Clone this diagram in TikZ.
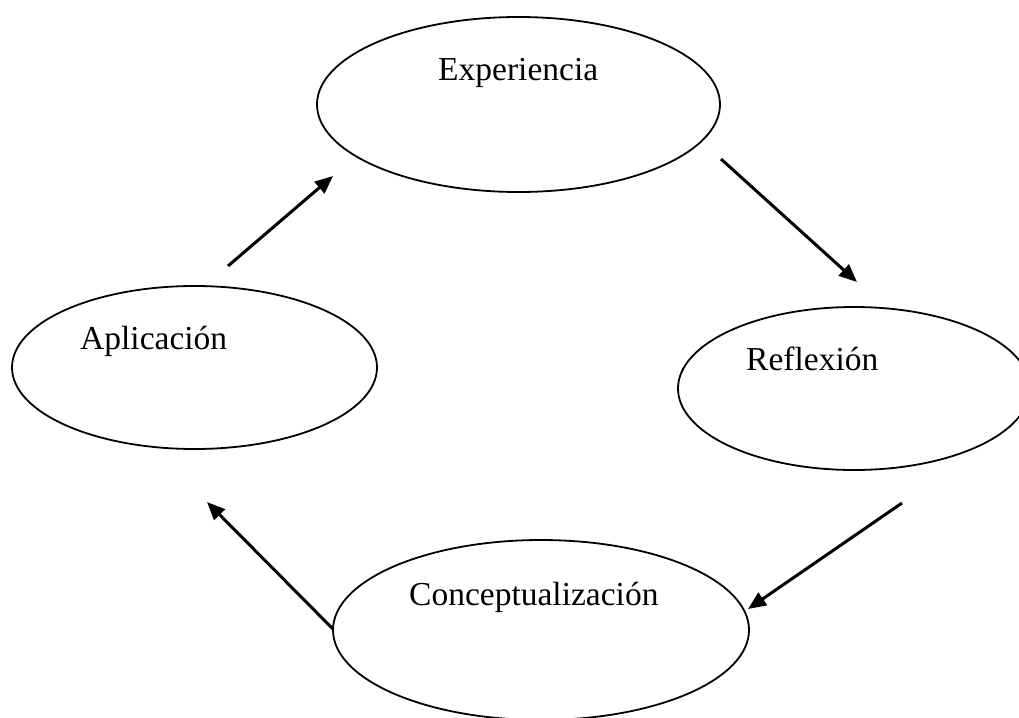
\documentclass[tikz,border=0pt]{standalone}
\usepackage{fontspec}
\setmainfont{Liberation Serif}
\usetikzlibrary{shapes.geometric,arrows.meta}

\tikzset{
  fase/.style={draw,ellipse,line width=1.8pt,inner sep=0pt,outer sep=0pt},
  rotulo/.style={anchor=base west,inner sep=0pt,font=\fontsize{33.5}{36}\selectfont},
  flecha/.style={line width=3pt,-{Triangle[length=18pt,width=15pt]}}
}

\begin{document}
\begin{tikzpicture}[x=1pt,y=-1pt]
  \useasboundingbox (0,0) rectangle (1019,717);
  \clip (0,0) rectangle (1019,717);
  \node[fase,minimum width=403,minimum height=175] (exp) at (518.5,104.5) {};
  \node[fase,minimum width=365,minimum height=163] (apl) at (194.5,367.5) {};
  \node[fase,minimum width=352,minimum height=163] (ref) at (854,388.5) {};
  \node[fase,minimum width=416,minimum height=180] (con) at (541,630) {};
  \node[rotulo] (expT) at (438,81) {Experiencia};
  \node[rotulo] (aplT) at (80,349) {Aplicación};
  \node[rotulo] (refT) at (746,370) {Reflexión};
  \node[rotulo] (conT) at (409,605) {Conceptualización};
  \coordinate (a1) at (228,266);
  \coordinate (b1) at (333,176);
  \coordinate (a2) at (721,159);
  \coordinate (b2) at (857,282);
  \coordinate (a3) at (902,503);
  \coordinate (b3) at (748,609);
  \coordinate (a4) at (333,629);
  \coordinate (b4) at (207,502);
  \draw[flecha] (a1) -- (b1);
  \draw[flecha] (a2) -- (b2);
  \draw[flecha] (a3) -- (b3);
  \draw[flecha] (a4) -- (b4);
\end{tikzpicture}
\end{document}
